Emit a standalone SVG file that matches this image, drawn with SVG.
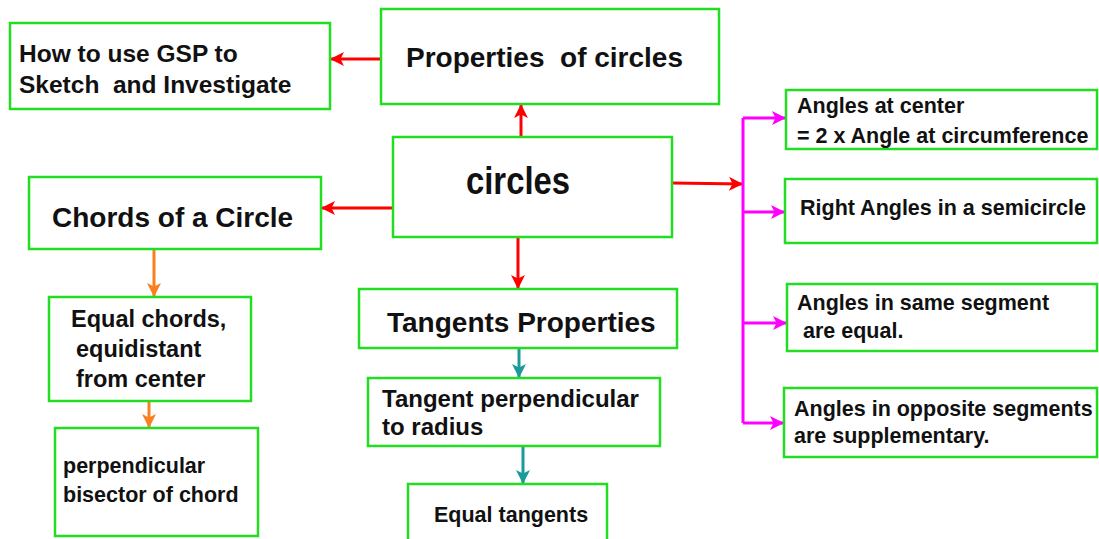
<svg xmlns="http://www.w3.org/2000/svg" width="1099" height="539" viewBox="0 0 1099 539">
<style>
.box{fill:#fff;stroke:#22dd22;stroke-width:2.5}
text{font-family:"Liberation Sans",Arial,sans-serif;font-weight:bold;fill:#111}
.c{fill:none;stroke-width:3}
.r{stroke:#ff0000}
.o{stroke:#f8801e}
.t{stroke:#1a9a9a}
.m{stroke:#ff00ff}
</style>
<defs>
<marker id="ar" viewBox="0 0 12 12" refX="12" refY="6" markerWidth="14" markerHeight="14" markerUnits="userSpaceOnUse" orient="auto"><path d="M0,0 L12,6 L0,12 L3,6 z" fill="#ff0000"/></marker>
<marker id="ao" viewBox="0 0 12 12" refX="12" refY="6" markerWidth="14" markerHeight="14" markerUnits="userSpaceOnUse" orient="auto"><path d="M0,0 L12,6 L0,12 L3,6 z" fill="#f8801e"/></marker>
<marker id="at" viewBox="0 0 12 12" refX="12" refY="6" markerWidth="14" markerHeight="14" markerUnits="userSpaceOnUse" orient="auto"><path d="M0,0 L12,6 L0,12 L3,6 z" fill="#1a9a9a"/></marker>
<marker id="am" viewBox="0 0 12 12" refX="12" refY="6" markerWidth="14" markerHeight="14" markerUnits="userSpaceOnUse" orient="auto"><path d="M0,0 L12,6 L0,12 L3,6 z" fill="#ff00ff"/></marker>
</defs>
<rect width="1099" height="539" fill="#fff"/>
<g id="connectors">
<path class="c r" d="M381,59 L330,59" marker-end="url(#ar)"/>
<path class="c r" d="M521,137 L521,104" marker-end="url(#ar)"/>
<path class="c r" d="M393,208 L321,208" marker-end="url(#ar)"/>
<path class="c r" d="M518,237 L518,289" marker-end="url(#ar)"/>
<path class="c r" d="M672,183 L743,184" marker-end="url(#ar)"/>
<path class="c m" d="M743,118 L743,423"/>
<path class="c m" d="M743,118 L786,118" marker-end="url(#am)"/>
<path class="c m" d="M743,212 L785,212" marker-end="url(#am)"/>
<path class="c m" d="M743,323 L787,323" marker-end="url(#am)"/>
<path class="c m" d="M743,423 L784,423" marker-end="url(#am)"/>
<path class="c o" d="M154,249 L154,297" marker-end="url(#ao)"/>
<path class="c o" d="M149,401 L149,428" marker-end="url(#ao)"/>
<path class="c t" d="M519,348 L519,378" marker-end="url(#at)"/>
<path class="c t" d="M523,446 L523,484" marker-end="url(#at)"/>
</g>
<g id="gsp"><rect class="box" x="10" y="23" width="320" height="86"/>
<text x="19" y="62" font-size="24.5">How to use GSP to</text>
<text x="19" y="93" font-size="24.5" xml:space="preserve">Sketch  and Investigate</text></g>
<g id="properties"><rect class="box" x="381" y="9" width="338" height="95"/>
<text x="406" y="67" font-size="28" xml:space="preserve">Properties  of circles</text></g>
<g id="circles"><rect class="box" x="393" y="137" width="279" height="100"/>
<text x="466" y="194" font-size="39" textLength="104" lengthAdjust="spacingAndGlyphs">circles</text></g>
<g id="chords"><rect class="box" x="29" y="177" width="292" height="72"/>
<text x="52" y="227" font-size="28">Chords of a Circle</text></g>
<g id="equal-chords"><rect class="box" x="49" y="297" width="202" height="104"/>
<text x="71" y="327" font-size="23.5">Equal chords,</text>
<text x="76" y="357" font-size="23.5">equidistant</text>
<text x="76" y="387" font-size="23.5">from center</text></g>
<g id="bisector"><rect class="box" x="55" y="428" width="203" height="108"/>
<text x="63" y="473" font-size="21.5">perpendicular</text>
<text x="63" y="502" font-size="21.5">bisector of chord</text></g>
<g id="tangents"><rect class="box" x="359" y="289" width="318" height="59"/>
<text x="387" y="332" font-size="28">Tangents Properties</text></g>
<g id="tangent-perp"><rect class="box" x="368" y="378" width="292" height="68"/>
<text x="382" y="407" font-size="24">Tangent perpendicular</text>
<text x="382" y="435" font-size="24">to radius</text></g>
<g id="equal-tangents"><rect class="box" x="408" y="484" width="199" height="60"/>
<text x="434" y="522" font-size="21.5">Equal tangents</text></g>
<g id="angle-center"><rect class="box" x="786" y="90" width="311" height="59"/>
<text x="797" y="113" font-size="21.5">Angles at center</text>
<text x="797" y="143" font-size="21.5">= 2 x Angle at circumference</text></g>
<g id="semicircle"><rect class="box" x="785" y="179" width="312" height="64"/>
<text x="800" y="215" font-size="21.5">Right Angles in a semicircle</text></g>
<g id="same-segment"><rect class="box" x="787" y="284" width="310" height="67"/>
<text x="797" y="310" font-size="21.5">Angles in same segment</text>
<text x="797" y="338" font-size="21.5" xml:space="preserve"> are equal.</text></g>
<g id="opposite-segments"><rect class="box" x="784" y="388" width="313" height="69"/>
<text x="794" y="416" font-size="21.5">Angles in opposite segments</text>
<text x="794" y="443" font-size="21.5">are supplementary.</text></g>
</svg>
